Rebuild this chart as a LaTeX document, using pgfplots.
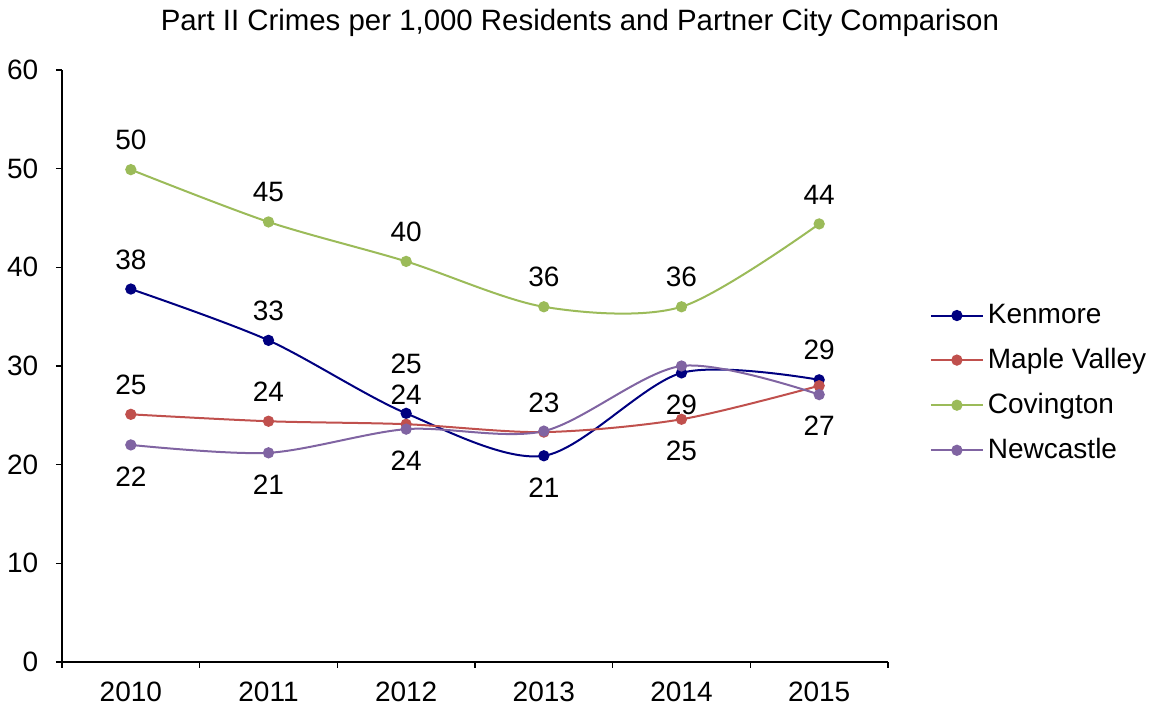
\documentclass[border=0pt]{standalone}
\usepackage{fontspec}
\setmainfont{Liberation Sans}
\usepackage{pgfplots}
\pgfplotsset{compat=1.18}

\definecolor{kenmore}{RGB}{0,0,128}
\definecolor{maple}{RGB}{192,80,77}
\definecolor{covington}{RGB}{155,187,89}
\definecolor{newcastle}{RGB}{128,100,162}

\begin{document}
\begin{tikzpicture}
  \fontsize{14}{17}\selectfont

  %%% label styles for data values
  \pgfplotsset{
    lab above/.style={draw=none, forget plot, point meta=explicit symbolic,
      nodes near coords, nodes near coords style={anchor=south, yshift=#1, font=\fontsize{14}{17}\selectfont}},
    lab above/.default=5pt,
    lab below/.style={draw=none, forget plot, point meta=explicit symbolic,
      nodes near coords, nodes near coords style={anchor=north, yshift=-6pt, font=\fontsize{14}{17}\selectfont}},
    series/.style={color=#1, line width=1pt, smooth, tension=0.5,
      mark=*, mark size=2.3pt, mark options={fill=#1, draw=#1}},
  }

  \begin{axis}[
    scale only axis,
    width = 413pt,
    height = 296pt,
    xmin = -0.5, xmax = 5.5,
    ymin = 0, ymax = 60,
    axis lines = left,
    axis line style = {-, line width=0.6pt},
    xtick = {-0.5,0.5,...,5.5},
    xticklabels = {},
    extra x ticks = {0,1,2,3,4,5},
    extra x tick labels = {2010,2011,2012,2013,2014,2015},
    extra x tick style = {major tick length=0pt},
    ytick = {0,10,...,60},
    tick align = outside,
    major tick length = 3pt,
    tick style = {black, line width=0.6pt},
    /pgf/number format/assume math mode=true,
    tick label style = {font=\fontsize{14}{17}\selectfont},
    xticklabel style = {yshift=-5pt},
    yticklabel style = {xshift=-4pt},
    title = {Part II Crimes per 1,000 Residents and Partner City Comparison},
    title style = {at={(rel axis cs:0.627,1)}, anchor=south, yshift=6pt, font=\fontsize{14.7}{17}\selectfont},
    legend style = {draw=none, at={(1.043,0.471)}, anchor=west,
      row sep=6.3pt, font=\fontsize{14}{17}\selectfont},
    legend cell align = left,
    legend image code/.code={
      \draw[mark repeat=2,mark phase=2] plot coordinates {(0pt,0pt) (13pt,0pt) (26pt,0pt)};},
    clip = false,
    ]

    %%% Kenmore
    \addplot [series=kenmore] coordinates {
      (0,37.8) (1,32.6) (2,25.2) (3,20.9) (4,29.3) (5,28.6)};
    \addlegendentry{Kenmore}
    %%% Maple Valley
    \addplot [series=maple] coordinates {
      (0,25.1) (1,24.4) (2,24.1) (3,23.3) (4,24.6) (5,28.0)};
    \addlegendentry{Maple Valley}
    %%% Covington
    \addplot [series=covington] coordinates {
      (0,49.9) (1,44.6) (2,40.6) (3,36.0) (4,36.0) (5,44.4)};
    \addlegendentry{Covington}
    %%% Newcastle
    \addplot [series=newcastle] coordinates {
      (0,22.0) (1,21.2) (2,23.6) (3,23.4) (4,30.0) (5,27.1)};
    \addlegendentry{Newcastle}

    %%% data labels
    \addplot [lab above] coordinates {(0,37.8) [38] (1,32.6) [33] (5,28.6) [29]};
    \addplot [lab above=15pt] coordinates {(2,25.2) [25]};
    \addplot [lab below] coordinates {(3,20.9) [21] (4,29.3) [29]};
    \addplot [lab above] coordinates {(0,25.1) [25] (1,24.4) [24] (2,24.1) [24] (3,23.3) [23]};
    \addplot [lab below] coordinates {(4,24.6) [25]};
    \addplot [lab above] coordinates {(0,49.9) [50] (1,44.6) [45] (2,40.6) [40] (3,36.0) [36] (4,36.0) [36] (5,44.4) [44]};
    \addplot [lab below] coordinates {(0,22.0) [22] (1,21.2) [21] (2,23.6) [24] (5,27.1) [27]};

  \end{axis}

  \pgfresetboundingbox
  \path (-31pt,-24pt) rectangle (543.5pt,331pt);

\end{tikzpicture}
\end{document}
